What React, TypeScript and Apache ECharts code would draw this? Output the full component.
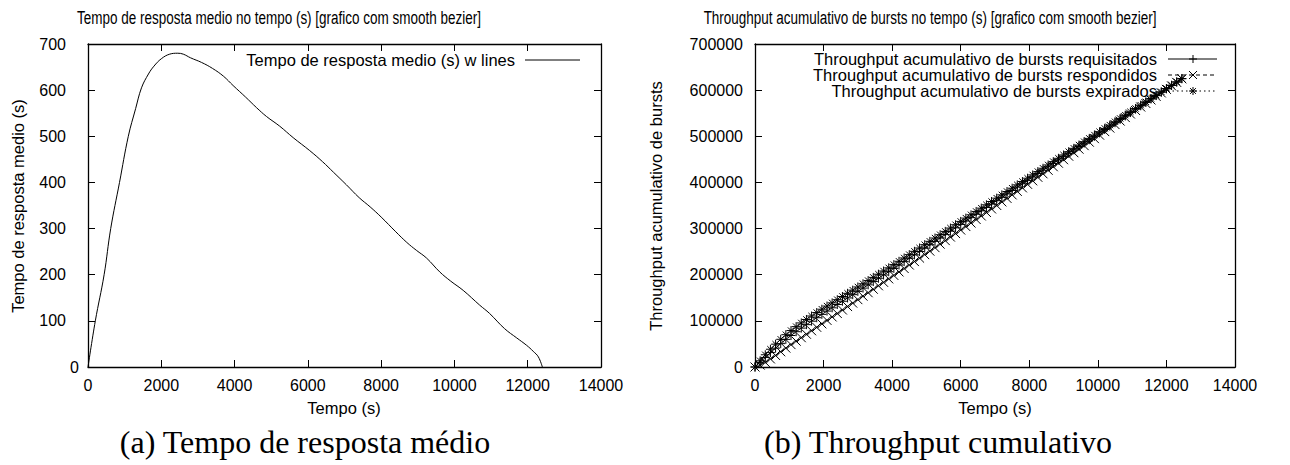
import React, { useEffect, useRef } from "react";
import * as echarts from "echarts";

// ---- Chart (a): mean response time over time ----
const respTimeS = [0, 200, 440, 620, 860, 1100, 1300, 1460, 1650, 1800, 2000, 2230, 2450, 2600, 2800, 3100, 3400, 3700, 3960, 4300, 4600, 4870, 5230, 5600, 6050, 6400, 6700, 7050, 7400, 7700, 8000, 8400, 8700, 8960, 9240, 9600, 9900, 10240, 10690, 10960, 11370, 11700, 11970, 12150, 12290, 12400];
const meanResponseS = [0, 100, 200, 300, 400, 500, 560, 605, 635, 652, 668, 678, 680, 678, 670, 660, 647, 630, 610, 585, 562, 543, 522, 497, 469, 445, 422, 395, 367, 347, 325, 293, 270, 253, 236, 206, 186, 166, 134, 116, 83, 63, 47, 34, 22, 0];

// ---- Chart (b): cumulative burst throughput (sample every 150 s) ----
const burstTimeS = [0, 150, 300, 450, 600, 750, 900, 1050, 1200, 1350, 1500, 1650, 1800, 1950, 2100, 2250, 2400, 2550, 2700, 2850, 3000, 3150, 3300, 3450, 3600, 3750, 3900, 4050, 4200, 4350, 4500, 4650, 4800, 4950, 5100, 5250, 5400, 5550, 5700, 5850, 6000, 6150, 6300, 6450, 6600, 6750, 6900, 7050, 7200, 7350, 7500, 7650, 7800, 7950, 8100, 8250, 8400, 8550, 8700, 8850, 9000, 9150, 9300, 9450, 9600, 9750, 9900, 10050, 10200, 10350, 10500, 10650, 10800, 10950, 11100, 11250, 11400, 11550, 11700, 11850, 12000, 12150, 12300, 12450];
const requested = [0, 10200, 20700, 31200, 40900, 50600, 59900, 68300, 76500, 84300, 91800, 99300, 106800, 114100, 121200, 128300, 135400, 142500, 149700, 156800, 163900, 171000, 178100, 185200, 192300, 199400, 206500, 213700, 221000, 228300, 235600, 242900, 250200, 257500, 264900, 272200, 279600, 286900, 294300, 301600, 309000, 316300, 323600, 331000, 338400, 345700, 353000, 360400, 367700, 375100, 382400, 389800, 397100, 404500, 411800, 419200, 426500, 433800, 441200, 448600, 455900, 463200, 470600, 478000, 485300, 492600, 500000, 507300, 514700, 522000, 529400, 536700, 544000, 551400, 558800, 566100, 573400, 580800, 588200, 595500, 602800, 610200, 617500, 624800];
const responded = [0, 4200, 10000, 17500, 25000, 33000, 41000, 48500, 56000, 63500, 71000, 78500, 86000, 93500, 101000, 108500, 116000, 123500, 131000, 138500, 146000, 153500, 161000, 168500, 176000, 183500, 191000, 198500, 206000, 213500, 221000, 228500, 236000, 243500, 251100, 258700, 266300, 273900, 281600, 289200, 296800, 304400, 312000, 319700, 327300, 334900, 342500, 350100, 357800, 365400, 373000, 380600, 388200, 395900, 403500, 411100, 418700, 426300, 434000, 441600, 449200, 456800, 464400, 472100, 479700, 487300, 494900, 502500, 510200, 517800, 525400, 533000, 540600, 548300, 555900, 563500, 571100, 578700, 586400, 594000, 601600, 609200, 616800, 624500];
const expired = [0, 13500, 26500, 38500, 49500, 60000, 70000, 79000, 87500, 95500, 103000, 110500, 118000, 125200, 132100, 139000, 145900, 152800, 159700, 166600, 173500, 180400, 187300, 194200, 201100, 208000, 214900, 221900, 229100, 236300, 243500, 250700, 257900, 265100, 272300, 279500, 286700, 293900, 301100, 308300, 315500, 322700, 329900, 337100, 344300, 351500, 358700, 365900, 373100, 380300, 387500, 394700, 401900, 409100, 416300, 423500, 430700, 437900, 445100, 452300, 459500, 466700, 473900, 481100, 488300, 495500, 502700, 509900, 517100, 524300, 531500, 538700, 545900, 553100, 560300, 567500, 574700, 581900, 589100, 596300, 603500, 610700, 617900, 625000];

const xTicks = { min: 0, max: 14000, interval: 2000 };
const yTicksA = { min: 0, max: 700, interval: 100 };
const yTicksB = { min: 0, max: 700000, interval: 100000 };

const SANS = "'Liberation Sans', Arial, Helvetica, sans-serif";
const SERIF = "'Liberation Serif', 'DejaVu Serif', serif";

const PLUS = "path://M0,5L10,5M5,0L5,10";
const CROSS = "path://M0,0L10,10M10,0L0,10";
const STAR = "path://M0,5L10,5M5,0L5,10M1.5,1.5L8.5,8.5M8.5,1.5L1.5,8.5";

function markerLines(kind: string, cx: number, cy: number, r: number) {
  const segs: number[][] = [];
  if (kind === "plus" || kind === "star") {
    segs.push([cx - r, cy, cx + r, cy], [cx, cy - r, cx, cy + r]);
  }
  if (kind === "cross" || kind === "star") {
    const d = kind === "star" ? r * 0.72 : r;
    segs.push([cx - d, cy - d, cx + d, cy + d], [cx + d, cy - d, cx - d, cy + d]);
  }
  return segs.map((s) => ({
    type: "line",
    shape: { x1: s[0], y1: s[1], x2: s[2], y2: s[3] },
    style: { stroke: "#000", lineWidth: 1 },
    silent: true,
  }));
}

const plain = (v: number) => String(v);

function frameAxes(gridIndex: number, ticks: any, isX: boolean, labelOpts: any) {
  const line = { show: true, onZero: false, lineStyle: { color: "#000", width: 1.3 } };
  const tick = { show: true, inside: true, length: 7, lineStyle: { color: "#000", width: 1 } };
  const main = {
    gridIndex,
    type: "value",
    ...ticks,
    position: isX ? "bottom" : "left",
    axisLine: line,
    axisTick: tick,
    splitLine: { show: false },
    axisLabel: { color: "#000", fontSize: 16, fontFamily: SANS, showMinLabel: true, showMaxLabel: true, formatter: plain, ...labelOpts },
  };
  const mirror = {
    gridIndex,
    type: "value",
    ...ticks,
    position: isX ? "top" : "right",
    axisLine: line,
    axisTick: tick,
    splitLine: { show: false },
    axisLabel: { show: false },
  };
  return [main, mirror];
}

export default function App() {
  const ref = useRef<HTMLDivElement>(null);

  useEffect(() => {
    document.body.style.margin = "0";
    if (!ref.current) return;
    const chart = echarts.init(ref.current, undefined, { renderer: "svg" });

    const xA = frameAxes(0, xTicks, true, { margin: 10 });
    const xB = frameAxes(1, xTicks, true, { margin: 10 });
    const yA = frameAxes(0, yTicksA, false, {
      margin: 9,
      formatter: (v: number) => (v === 0 ? "0" : "{p|" + v + "}"),
      rich: { p: { fontSize: 16, fontFamily: SANS, color: "#000", padding: [0, 13, 0, 0] } },
    });
    const yB = frameAxes(1, yTicksB, false, { margin: 12 });

    const legendB = [
      { label: "Throughput acumulativo de bursts requisitados", kind: "plus", dash: null as any, y: 59 },
      { label: "Throughput acumulativo de bursts respondidos", kind: "cross", dash: [4, 3], y: 75 },
      { label: "Throughput acumulativo de bursts expirados", kind: "star", dash: [1.5, 3], y: 91 },
    ];

    const txt = (text: string, x: number, y: number, size: number, extra: any = {}) => ({
      type: "text",
      x,
      y,
      ...extra,
      style: { text, fontSize: size, fontFamily: SANS, fill: "#000", align: "center", verticalAlign: "middle", ...(extra.style || {}) },
    });

    const graphics: any[] = [
      // titles
      txt("Tempo de resposta medio no tempo (s) [grafico com smooth bezier]", 279, 18, 13.5, { scaleY: 1.3 }),
      txt("Throughput acumulativo de bursts no tempo (s) [grafico com smooth bezier]", 930, 18, 13.5, { scaleY: 1.3 }),
      // axis names
      txt("Tempo de resposta medio (s)", 18, 206, 16.5, { rotation: Math.PI / 2 }),
      txt("Throughput acumulativo de bursts", 656, 206, 16.5, { rotation: Math.PI / 2 }),
      txt("Tempo (s)", 344, 408, 16.5),
      txt("Tempo (s)", 995, 408, 16.5),
      // captions
      txt("(a) Tempo de resposta médio", 305, 442, 32, { style: { fontFamily: SERIF } }),
      txt("(b) Throughput cumulativo", 938, 442, 32, { style: { fontFamily: SERIF } }),
      // legend (a)
      txt("Tempo de resposta medio (s) w lines", 515, 60, 16.5, { style: { align: "right" } }),
      { type: "line", shape: { x1: 525, y1: 60, x2: 580, y2: 60 }, style: { stroke: "#000", lineWidth: 1 } },
    ];
    legendB.forEach((l) => {
      graphics.push(txt(l.label, 1157, l.y, 16.5, { style: { align: "right" } }));
      graphics.push({ type: "line", shape: { x1: 1168, y1: l.y, x2: 1217, y2: l.y }, style: { stroke: "#000", lineWidth: 1, lineDash: l.dash || undefined } });
      markerLines(l.kind, 1193, l.y, 4).forEach((m) => graphics.push(m));
    });

    const markerSeries = (name: string, values: number[], symbol: string, dash: any) => ({
      name,
      type: "line",
      xAxisIndex: 2,
      yAxisIndex: 2,
      data: burstTimeS.map((t, i) => [t, values[i]]),
      symbol,
      symbolSize: 9,
      showSymbol: true,
      showAllSymbol: true,
      lineStyle: { color: "#000", width: 1, type: dash },
      itemStyle: { color: "#000", borderColor: "#000", borderWidth: 1 },
      emphasis: { disabled: true },
    });

    chart.setOption({
      animation: false,
      backgroundColor: "#fff",
      textStyle: { fontFamily: SANS },
      grid: [
        { left: 88, top: 44, width: 513, height: 323, containLabel: false, outerBoundsMode: "none" },
        { left: 755, top: 44, width: 480, height: 323, containLabel: false, outerBoundsMode: "none" },
      ],
      xAxis: [...xA, ...xB],
      yAxis: [...yA, ...yB],
      graphic: graphics,
      series: [
        {
          name: "Tempo de resposta medio (s) w lines",
          type: "line",
          xAxisIndex: 0,
          yAxisIndex: 0,
          data: respTimeS.map((t, i) => [t, meanResponseS[i]]),
          smooth: 0.4,
          showSymbol: false,
          lineStyle: { color: "#000", width: 1 },
          emphasis: { disabled: true },
        },
        markerSeries("Throughput acumulativo de bursts respondidos", responded, CROSS, "dashed"),
        markerSeries("Throughput acumulativo de bursts requisitados", requested, PLUS, "solid"),
        markerSeries("Throughput acumulativo de bursts expirados", expired, STAR, "dotted"),
      ],
    });

    return () => chart.dispose();
  }, []);

  return <div ref={ref} style={{ width: 1290, height: 465 }} />;
}
